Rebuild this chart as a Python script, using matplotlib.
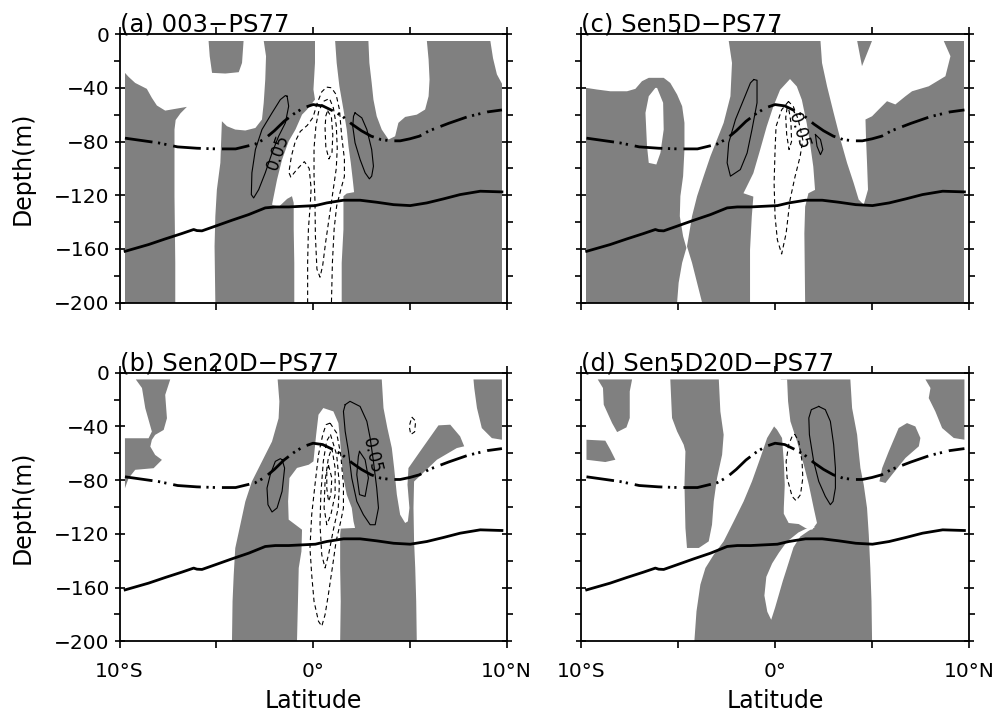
import matplotlib
matplotlib.use('Agg')
import matplotlib.pyplot as plt
from matplotlib.ticker import FixedLocator, MultipleLocator

GRAY = '#808080'

# shared thick lines (same in every panel)
mld_lat = [-9.72, -8, -7, -6, -5, -4, -3, -2.5, -2, -1.5, -1, -0.5, 0, 0.5, 1, 1.5,
           2, 2.5, 3, 3.5, 4, 4.5, 5, 5.5, 6, 7, 8, 9, 9.76]
mld_depth = [-77.5, -81, -84, -85, -85.5, -85.5, -82, -78, -72, -65, -59.5, -55, -52.5,
             -53.5, -57, -61, -67, -72, -76, -78.5, -79.5, -79.5, -78, -76, -72, -66.5,
             -61.5, -58, -56.5]
thermo_lat = [-9.71, -8.5, -7.64, -6.78, -6.17, -6.0, -5.74, -5.05, -4.19, -3.33, -2.47,
              -1.95, -1.26, -0.57, 0.12, 0.71, 1.57, 2.43, 3.29, 4.16, 5.02, 5.88, 6.74,
              7.6, 8.64, 9.76]
thermo_depth = [-161.7, -156.7, -152.5, -148.5, -145.5, -146.3, -146.5, -143, -138.6,
                -134.4, -129.4, -128.7, -128.7, -128.2, -127.7, -125.7, -123.7, -123.7,
                -125.2, -127, -127.7, -125.7, -122.7, -119.5, -117, -117.5]

domain_lat = [-9.72, 9.76, 9.76, -9.72]
domain_depth = [-5, -5, -200, -200]

# ---------------- (a) 003-PS77 : gray field with white holes
a_white_left = [(-9.8, -5), (-5.40, -5), (-5.34, -16.5), (-5.22, -28.9), (-4.53, -29.4),
                (-3.84, -28.4), (-3.67, -21.5), (-3.59, -5), (-2.55, -5), (-2.43, -16.5),
                (-2.47, -33.9), (-2.55, -51.2), (-2.64, -63.6), (-2.98, -69.9), (-3.5, -71.8),
                (-4.02, -71.1), (-4.45, -68.6), (-4.71, -64.9), (-4.74, -76.1), (-4.79, -95.9),
                (-4.97, -115.8), (-5.05, -135.6), (-5.09, -158), (-5.05, -200), (-7.12, -200),
                (-7.12, -170.3), (-7.16, -120.7), (-7.16, -71.1), (-7.1, -64), (-6.85, -59),
                (-6.52, -54.2), (-7.12, -55.7), (-7.64, -57), (-8.07, -53.2), (-8.33, -47.5),
                (-8.59, -40.8), (-9.19, -36.4), (-9.53, -31.9), (-9.72, -28.9), (-9.8, -28.9)]
a_white_center = [(0.10, -5), (1.14, -5), (1.22, -21.5), (1.36, -38.8), (1.57, -56.2),
                  (1.74, -71.1), (1.83, -83.5), (1.95, -95.9), (2.05, -108.3), (2.12, -117.7),
                  (1.74, -118.7), (1.57, -120.7), (1.57, -145.5), (1.48, -170.3), (1.48, -200),
                  (-0.97, -200), (-0.97, -170.3), (-1.0, -145.5), (-1.0, -125.7), (-1.09, -120.7),
                  (-1.34, -122.7), (-1.78, -128.7), (-2.12, -127), (-1.86, -108.3), (-1.6, -93.4),
                  (-1.26, -79.8), (-0.91, -71.1), (-0.57, -60), (-0.31, -56.2), (0.10, -48.8),
                  (0.02, -41.3), (0.10, -21.5)]
a_white_bay = [(2.86, -5), (5.88, -5), (5.97, -19), (6.02, -33.9), (5.97, -46.3), (5.79, -56.2),
               (5.36, -60), (4.76, -61.7), (4.41, -66.1), (4.24, -76.1), (3.9, -78.5),
               (3.55, -71.1), (3.29, -61.2), (3.12, -48.8), (3.03, -36.4), (2.91, -21.5)]
a_white_edge = [(9.16, -5), (9.8, -5), (9.8, -38), (9.5, -30), (9.3, -18)]

a_pos = [[(-1.34, -46.3), (-1.26, -53.7), (-1.43, -66.1), (-1.78, -76.1), (-2.12, -88.5),
          (-2.47, -103.3), (-2.81, -115.8), (-3.07, -122), (-3.19, -119.5), (-3.16, -103.3),
          (-2.98, -86), (-2.64, -71.1), (-2.12, -58.7), (-1.69, -48.8), (-1.43, -45.8)],
         [(2.17, -58.7), (2.52, -62.4), (2.78, -71.1), (3.03, -86), (3.12, -98.4), (3.03, -105.8),
          (2.91, -107.8), (2.69, -103.3), (2.43, -93.4), (2.17, -81), (2.05, -68.6), (2.09, -61.2)]]
a_neg = [[(0.55, -50), (0.85, -48), (1.05, -55), (1.2, -68), (1.25, -85), (1.2, -100),
          (1.05, -115), (0.85, -135), (0.65, -155), (0.5, -172), (0.36, -181), (0.2, -175),
          (0.12, -150), (0.1, -125), (0.05, -105), (0.05, -85), (0.15, -68), (0.3, -57)],
         [(0.75, -57), (0.95, -62), (1.02, -75), (0.98, -88), (0.82, -93), (0.66, -84),
          (0.62, -70), (0.66, -61)]]
a_neg_open = [[(-0.28, -200), (-0.28, -170), (-0.24, -145), (-0.15, -128), (-0.1, -115),
               (-0.2, -100), (-0.45, -95), (-0.85, -101), (-1.15, -106.5), (-1.25, -103),
               (-1.12, -91), (-0.92, -80), (-0.66, -72.5), (-0.3, -68), (0.0, -62), (0.2, -52),
               (0.45, -43), (0.7, -39.5), (0.95, -40), (1.19, -45), (1.36, -56), (1.48, -76),
               (1.62, -93), (1.62, -106), (1.43, -116), (1.22, -128), (1.09, -145), (1.0, -170),
               (0.95, -200)]]

# ---------------- (c) Sen5D-PS77 : gray field with white holes
c_white_main = [(-9.8, -5), (-2.39, -5), (-2.22, -21.5), (-2.3, -46.3), (-2.65, -66.1),
                (-2.99, -78.5), (-3.33, -90.9), (-3.68, -105.8), (-4.02, -120.7), (-4.28, -135.6),
                (-4.45, -150.5), (-4.54, -158), (-4.28, -170.3), (-4.02, -185.2), (-3.76, -200),
                (-5.05, -200), (-4.97, -185.2), (-4.79, -170.3), (-4.57, -159.2), (-4.74, -150.5),
                (-4.91, -135.6), (-4.88, -120.7), (-4.74, -105.8), (-4.67, -86), (-4.67, -66.1),
                (-4.79, -53.7), (-5.05, -45), (-5.4, -36.4), (-5.74, -32.6), (-6.51, -32.6),
                (-6.86, -35.1), (-7.2, -40.8), (-7.63, -42.6), (-8.49, -42.6), (-9.18, -41.3),
                (-9.72, -40.1), (-9.8, -40.1)]
c_white_hole = [(-6.08, -40.1), (-5.77, -51.2), (-5.74, -71.1), (-5.91, -88.5), (-6.12, -97.1),
                (-6.51, -95.9), (-6.6, -83.5), (-6.68, -58.7), (-6.51, -46.3), (-6.17, -40.1)]
c_white_center = [(0.77, -33.5), (1.12, -39), (1.38, -49), (1.63, -66.3), (1.8, -81.2),
                  (1.97, -98.7), (2.06, -116), (1.72, -118.5), (1.55, -128.5), (1.51, -148.3),
                  (1.55, -200), (-1.29, -200), (-1.29, -160.7), (-1.2, -135.9), (-1.12, -121),
                  (-1.63, -118.5), (-1.46, -113.6), (-1.12, -103.6), (-0.77, -86.2),
                  (-0.43, -68.8), (-0.09, -53.9), (0.26, -41.5)]
c_white_right = [(2.34, -5), (4.23, -5), (4.48, -23.9), (5.0, -5), (8.69, -5), (9.04, -16.5),
                 (8.78, -31.4), (7.92, -38.9), (7.06, -42.6), (6.72, -46.3), (6.2, -52.4),
                 (5.77, -50), (5.34, -56.2), (5.0, -61.2), (4.66, -63.6), (4.69, -78.5),
                 (4.74, -95.9), (4.79, -115.8), (4.57, -127), (4.31, -123.2), (4.05, -110.8),
                 (3.71, -95.9), (3.37, -78.5), (3.02, -58.7), (2.68, -38.9), (2.42, -21.5)]

c_pos = [[(-1.1, -33.9), (-0.93, -34.4), (-0.93, -51.2), (-1.19, -71.1), (-1.44, -88.5),
          (-1.79, -100.9), (-2.3, -105.8), (-2.47, -95.9), (-2.39, -81), (-2.04, -63.6),
          (-1.62, -48.8), (-1.27, -36.4)],
         [(2.08, -74.8), (2.34, -78.5), (2.46, -86), (2.34, -89.8), (2.16, -83.5)]]
c_neg = [[(0.69, -50.2), (0.34, -56.4), (0.05, -68.8), (0.0, -86.2), (-0.05, -111), (0.0, -135.9),
          (0.12, -153.3), (0.34, -163.7), (0.57, -148.3), (0.77, -123.5), (1.03, -106.1),
          (1.29, -91.2), (1.43, -78.8), (1.2, -63.9), (0.94, -53.9)],
         [(0.62, -55), (0.55, -62), (0.6, -75), (0.72, -86), (0.85, -80), (0.82, -66), (0.72, -57)]]

# ---------------- (b) Sen20D-PS77 : gray patches on white
b_gray_topleft = [(-9.16, -5), (-7.38, -5), (-7.64, -16.5), (-7.55, -33.9), (-7.72, -42.6),
                  (-8.16, -46.3), (-8.33, -50), (-8.41, -55), (-8.16, -61.2), (-7.81, -64.9),
                  (-8.24, -71.1), (-9.19, -72.3), (-9.53, -78.5), (-9.72, -86), (-9.72, -48.8),
                  (-8.5, -48.8), (-8.33, -43.8), (-8.67, -26.4), (-8.84, -11.4)]
b_gray_center = [(-1.83, -5), (3.55, -5), (3.64, -26.3), (3.84, -41.2), (4.07, -56.1),
                 (4.19, -71), (4.33, -90.8), (4.5, -105.7), (4.76, -111.9), (4.9, -110.7),
                 (4.98, -100.7), (4.88, -83.4), (4.93, -71), (5.53, -58.6), (6.48, -39.2),
                 (7.09, -38.7), (7.6, -47.4), (7.81, -54.8), (7.43, -56.1), (6.4, -64.8),
                 (5.22, -81), (5.19, -100.7), (5.22, -125.6), (5.28, -145.4), (5.33, -170.2),
                 (5.36, -200), (-4.19, -200), (-4.16, -170.3), (-4.1, -150.5), (-4.02, -130.6),
                 (-3.76, -113.3), (-3.5, -95.9), (-3.16, -81), (-2.64, -66.1), (-2.12, -51.2),
                 (-1.78, -33.9), (-1.74, -21.4)]
b_gray_topright = [(8.29, -5), (9.76, -5), (9.76, -49.9), (9.24, -48.7), (8.72, -41.2),
                   (8.47, -26.3), (8.33, -11.4)]
b_white_center = [(0.53, -26.3), (1.05, -28.8), (1.31, -37.5), (1.4, -51.1), (1.48, -66),
                  (1.57, -78.4), (1.74, -90.8), (2.0, -100.7), (2.09, -110.7), (2.17, -115.6),
                  (1.43, -116.1), (1.4, -120.6), (1.4, -145.4), (1.43, -170.2), (1.4, -200),
                  (-0.83, -200), (-0.78, -170.3), (-0.74, -145.4), (-0.6, -133), (-0.57, -116.9),
                  (-0.91, -113.2), (-1.26, -109.4), (-1.29, -95.8), (-1.22, -78.4), (-0.83, -70.9),
                  (-0.22, -68.5), (0.02, -66), (0.16, -46.2), (0.28, -31.3)]

b_pos = [[(-1.6, -64.8), (-1.47, -71), (-1.6, -88.3), (-1.86, -100.7), (-2.12, -103.7),
          (-2.33, -98.3), (-2.38, -85.9), (-2.21, -75.9), (-1.95, -66), (-1.69, -64)],
         [(1.66, -23.8), (1.91, -21.3), (2.43, -25.1), (2.78, -36.2), (2.95, -48.6), (3.12, -66),
          (3.29, -85.9), (3.38, -100.7), (3.21, -113.2), (2.95, -113.2), (2.6, -105.7),
          (2.26, -95.8), (2.0, -78.4), (1.83, -58.6), (1.66, -43.7), (1.57, -28.8)],
         [(2.4, -58.6), (2.69, -64.8), (2.86, -78.4), (2.69, -92.1), (2.4, -90.8), (2.26, -75.9),
          (2.34, -62.3)]]
b_neg = [[(0.88, -37.5), (1.22, -44.9), (1.43, -61.1), (1.57, -83.4), (1.57, -100.7),
          (1.43, -110.7), (1.19, -125.6), (1.02, -142.9), (0.79, -165.3), (0.62, -180.2),
          (0.45, -188.8), (0.28, -185.1), (0.05, -170.2), (-0.07, -150.4), (-0.16, -130.5),
          (-0.07, -105.7), (0.1, -83.4), (0.28, -61.1), (0.5, -46.2), (0.67, -38.7)],
         [(0.9, -46), (1.22, -61.1), (1.36, -83.4), (1.3, -100.7), (1.05, -116.9), (0.8, -135.6),
          (0.62, -145.4), (0.45, -135.6), (0.36, -113.2), (0.4, -90.8), (0.53, -66), (0.7, -51)],
         [(0.97, -56), (1.14, -71), (1.14, -90.8), (0.92, -105.7), (0.71, -113.2), (0.57, -100.7),
          (0.62, -80.9), (0.79, -63.5)],
         [(0.8, -69), (0.97, -78.4), (0.92, -90.8), (0.8, -95.8), (0.71, -86), (0.71, -74)],
         [(5.1, -33), (5.3, -36), (5.25, -44), (5.05, -46), (4.97, -40)]]

# ---------------- (d) Sen5D20D-PS77 : gray patches on white
d_gray_1 = [(-9.14, -5), (-7.37, -5), (-7.49, -13.9), (-7.49, -33.7), (-7.66, -40.7),
            (-8.14, -44.2), (-8.4, -37.5), (-8.83, -23.8), (-8.87, -11.4)]
d_gray_2 = [(-9.72, -49.9), (-8.75, -50.6), (-8.49, -57.3), (-8.23, -64.8), (-8.75, -66.5),
            (-9.72, -64.8)]
d_gray_3 = [(-5.4, -5), (-2.9, -5), (-2.82, -28.8), (-2.65, -46.2), (-2.73, -61.1),
            (-2.99, -78.4), (-3.16, -95.8), (-3.25, -113.2), (-3.42, -125.6), (-3.93, -130.5),
            (-4.54, -130.5), (-4.62, -115.6), (-4.67, -83.4), (-4.62, -58.6), (-4.71, -53.6),
            (-5.05, -43.7), (-5.31, -33.7)]
d_gray_band = [(-4.16, -200), (-4.05, -177.7), (-3.85, -157.8), (-3.59, -145.4), (-3.16, -135.5),
               (-2.65, -125.6), (-2.13, -110.7), (-1.62, -95.8), (-1.19, -80.9), (-0.76, -63.5),
               (-0.41, -48.6), (-0.15, -42.4), (-0.05, -40), (0.3, -5), (3.88, -5),
               (3.97, -26.3), (4.23, -46.2), (4.31, -58.6), (4.4, -71), (4.57, -83.4),
               (4.74, -100.7), (4.83, -120.6), (4.91, -145.4), (4.97, -170.2), (5.0, -200)]
d_gray_arm = [(5.38, -80.9), (5.52, -71), (5.86, -58.6), (6.37, -41.2), (6.8, -37.5),
              (7.23, -40), (7.49, -48.6), (7.41, -54.8), (6.72, -63.5), (6.03, -75.9),
              (5.69, -82.1)]
d_gray_topright = [(7.75, -5), (9.76, -5), (9.76, -49.9), (9.21, -48.6), (8.61, -41.2),
                   (8.26, -28.8), (7.92, -18.9), (8.01, -11.4)]
d_white_channel = [(-0.05, -40), (-0.25, -5), (0.62, -5), (0.67, -21.3), (0.79, -36.2),
                   (1.13, -51.1), (1.48, -68.5), (1.74, -83.4), (1.99, -100.7), (2.16, -111.9),
                   (1.91, -116.9), (1.56, -115.6), (1.22, -112.7), (0.7, -111.9), (0.45, -105),
                   (0.45, -100.7), (0.5, -83.4), (0.45, -66), (0.36, -48.6), (0.1, -42.4)]
d_white_finger = [(1.9, -114), (1.2, -119), (0.6, -126), (0.2, -134), (-0.15, -142),
                  (-0.45, -152), (-0.55, -166), (-0.4, -178), (-0.2, -184), (0.0, -175),
                  (0.2, -165), (0.4, -155), (0.6, -146), (0.95, -130), (1.3, -122), (1.7, -118),
                  (2.05, -115)]

d_pos = [[(2.25, -25.1), (2.59, -27.5), (2.85, -36.2), (3.02, -53.6), (3.11, -71), (3.11, -85.9),
          (2.99, -95.8), (2.85, -98.3), (2.59, -92.1), (2.25, -80.9), (1.99, -66), (1.77, -46.2),
          (1.74, -33.7), (1.87, -27.5)]]
d_neg = [[(1.01, -45.7), (1.22, -51.1), (1.39, -66), (1.43, -78.4), (1.31, -90.8), (1.08, -95.3),
          (0.88, -92.1), (0.62, -78.4), (0.57, -66), (0.7, -53.6), (0.88, -47.4)]]


def xy(poly, close=False):
    xs = [p[0] for p in poly]
    ys = [p[1] for p in poly]
    if close:
        xs.append(xs[0])
        ys.append(ys[0])
    return xs, ys


def draw_panel(ax, title, gray_bg, grays, whites, pos, neg, neg_open, label,
               xlabels, ylabels):
    if gray_bg:
        ax.fill(domain_lat, domain_depth, color=GRAY, lw=0)
    for poly in grays:
        ax.fill(*xy(poly), color=GRAY, lw=0)
    for poly in whites:
        ax.fill(*xy(poly), color='white', lw=0)
    for loop in pos:
        ax.plot(*xy(loop, True), color='black', lw=0.8)
    for loop in neg:
        ax.plot(*xy(loop, True), color='black', lw=0.8, linestyle=(0, (4, 3)))
    for loop in neg_open:
        ax.plot(*xy(loop), color='black', lw=0.8, linestyle=(0, (4, 3)))
    if label:
        ax.text(label[0], label[1], label[2], rotation=label[3], fontsize=12,
                ha='center', va='center')

    ax.plot(mld_lat, mld_depth, color='black', lw=2.0,
            linestyle=(0, (10, 2, 0.8, 1.5, 0.8, 2.5)))
    ax.plot(thermo_lat, thermo_depth, color='black', lw=2.0)

    ax.set_xlim(-10, 10)
    ax.set_ylim(-200, 0)
    ax.xaxis.set_major_locator(FixedLocator([-10, -5, 0, 5, 10]))
    if xlabels:
        ax.set_xticklabels(['10°S', '', '0°', '', '10°N'])
    else:
        ax.set_xticklabels([])
    ax.yaxis.set_major_locator(MultipleLocator(40))
    ax.yaxis.set_minor_locator(MultipleLocator(20))
    ax.tick_params(axis='x', which='both', direction='out', length=5, width=1.2,
                   top=True, bottom=True, pad=10, labelsize=14.5)
    ax.tick_params(axis='y', which='major', direction='inout', length=7, width=1.2,
                   left=True, right=True, pad=3.5, labelsize=14.5, labelleft=ylabels)
    ax.tick_params(axis='y', which='minor', direction='out', length=4.5, width=1.2,
                   left=True, right=True)
    for sp in ax.spines.values():
        sp.set_linewidth(1.3)
    ax.text(0.0, 1.01, title, transform=ax.transAxes, ha='left', va='baseline',
            fontsize=17.5)


fig = plt.figure(figsize=(9.97, 7.15), dpi=100)
ax_a = fig.add_axes([0.1199, 0.5766, 0.3882, 0.3758])
ax_c = fig.add_axes([0.5828, 0.5766, 0.3892, 0.3758])
ax_b = fig.add_axes([0.1199, 0.1031, 0.3882, 0.3756])
ax_d = fig.add_axes([0.5828, 0.1031, 0.3892, 0.3756])

draw_panel(ax_a, '(a) 003\u2212PS77', True, [],
           [a_white_left, a_white_center, a_white_bay, a_white_edge],
           a_pos, a_neg, a_neg_open, (-1.78, -88, '0.05', 71), False, True)
draw_panel(ax_c, '(c) Sen5D\u2212PS77', True, [],
           [c_white_main, c_white_hole, c_white_center, c_white_right],
           c_pos, c_neg, [], (1.2, -70, '-0.05', -73), False, False)
draw_panel(ax_b, '(b) Sen20D\u2212PS77', False,
           [b_gray_topleft, b_gray_center, b_gray_topright], [b_white_center],
           b_pos, b_neg, [], (3.03, -62, '0.05', -77), True, True)
draw_panel(ax_d, '(d) Sen5D20D\u2212PS77', False,
           [d_gray_1, d_gray_2, d_gray_3, d_gray_band, d_gray_arm, d_gray_topright],
           [d_white_channel, d_white_finger],
           d_pos, d_neg, [], None, True, False)

fig.text(0.0296, 1 - 168.5 / 715, 'Depth(m)', rotation=90, rotation_mode='anchor',
         ha='center', va='baseline', fontsize=17)
fig.text(0.0296, 1 - 507 / 715, 'Depth(m)', rotation=90, rotation_mode='anchor',
         ha='center', va='baseline', fontsize=17)
fig.text(313 / 997, 0.0094, 'Latitude', ha='center', va='baseline', fontsize=17)
fig.text(775 / 997, 0.0094, 'Latitude', ha='center', va='baseline', fontsize=17)

fig.savefig('out.png', dpi=100)
